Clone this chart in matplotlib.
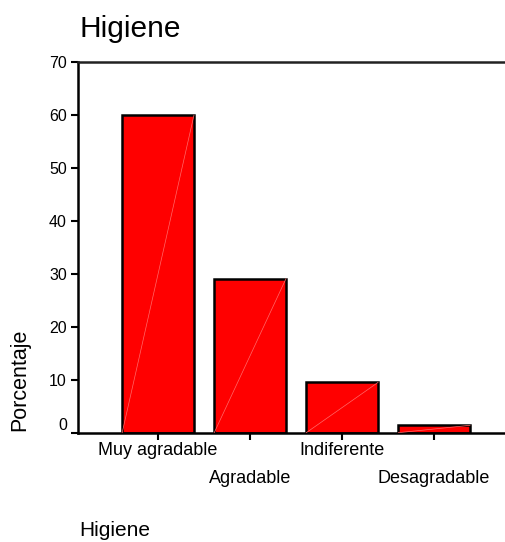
import matplotlib
matplotlib.use("Agg")
import matplotlib.pyplot as plt
import numpy as np

categories = ["Muy agradable", "Agradable", "Indiferente", "Desagradable"]
values = [60.0, 29.1, 9.5, 1.4]
yticks = [0, 10, 20, 30, 40, 50, 60, 70]

plt.rcParams['font.family'] = ['Liberation Sans', 'DejaVu Sans']

W, H = 505, 542
fig = plt.figure(figsize=(W / 100, H / 100), dpi=100)
ax = fig.add_axes([78 / W, 1 - 432.7 / H, 1 - 78 / W, (432.7 - 62.3) / H])

x = np.arange(len(categories))
bw = 0.78
ax.bar(x, values, width=bw, color="#ff0000", edgecolor="black", linewidth=1.8, zorder=2)
for xi, v in zip(x, values):
    ax.plot([xi - bw / 2, xi + bw / 2], [0, v], color="#ff6a6a", lw=0.5, zorder=3)

ax.set_xlim(-0.87, 3.77)
ax.set_ylim(0, 70)
ax.set_yticks(yticks)
ax.set_yticklabels([str(t) for t in yticks], fontsize=11.5)
ax.set_xticks(x)
ax.set_xticklabels(categories, fontsize=13)
for i, lab in enumerate(ax.get_xticklabels()):
    if i % 2 == 1:
        lab.set_y(-0.077)
lab0 = ax.get_yticklabels()[0]
lab0.set_va('bottom')

ax.tick_params(axis='both', direction='out', length=5, width=1.5, color='black')
ax.tick_params(axis='x', pad=1.5)
ax.tick_params(axis='y', pad=3)
for s in ['left', 'bottom', 'top']:
    ax.spines[s].set_linewidth(1.8)
ax.spines['top'].set_color('#222222')
ax.spines['right'].set_visible(False)

fig.text(79 / W, 1 - 37 / H, "Higiene", fontsize=21.5, ha='left', va='baseline')
fig.text(20 / W, 1 - 431 / H, "Porcentaje", fontsize=15.5, rotation=90, ha='center', va='bottom')
fig.text(79 / W, 1 - 536 / H, "Higiene", fontsize=15, ha='left', va='baseline')

fig.savefig("out.png", dpi=100)
